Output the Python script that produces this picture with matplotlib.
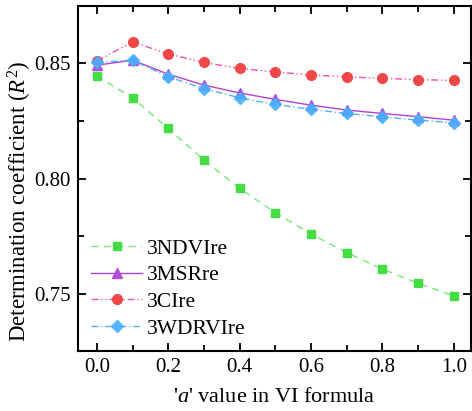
import numpy as np
import matplotlib
matplotlib.use("Agg")
from matplotlib import pyplot as plt

# VI 공식의 a 값에 따른 결정계수
a_values = [0.0, 0.1, 0.2, 0.3, 0.4, 0.5, 0.6, 0.7, 0.8, 0.9, 1.0]
ndvi_re = [0.8444, 0.8350, 0.8217, 0.8080, 0.7958, 0.7852, 0.7760, 0.7679, 0.7608, 0.7546, 0.7491]
msr_re = [0.8491, 0.8513, 0.8452, 0.8405, 0.8371, 0.8343, 0.8318, 0.8297, 0.8282, 0.8268, 0.8253]
ci_re = [0.8509, 0.8592, 0.8540, 0.8503, 0.8477, 0.8462, 0.8449, 0.8441, 0.8434, 0.8429, 0.8425]
wdrvi_re = [0.8503, 0.8513, 0.8441, 0.8390, 0.8350, 0.8321, 0.8300, 0.8282, 0.8268, 0.8253, 0.8242]

plt.rcParams["font.family"] = ["Liberation Serif", "DejaVu Serif"]
plt.rcParams["mathtext.fontset"] = "custom"
plt.rcParams["mathtext.rm"] = "Liberation Serif"
plt.rcParams["mathtext.it"] = "Liberation Serif:italic"
plt.rcParams["font.size"] = 15

fig = plt.figure(figsize=(4.72, 4.11), dpi=100)
ax = fig.add_axes([0.165, 0.146, 0.833, 0.839])

ax.plot(a_values, ndvi_re, color="#7ae87a", linestyle=(0, (5, 4)), linewidth=1,
        marker="s", markersize=6.3, markerfacecolor="#44dd44", markeredgecolor="#44dd44",
        label="3NDVIre")
ax.plot(a_values, msr_re, color="#b040d8", linestyle="-", linewidth=1,
        marker="^", markersize=7.5, markerfacecolor="#b050d8", markeredgecolor="#b050d8",
        label="3MSRre")
ax.plot(a_values, ci_re, color="#f050b0", linestyle=(0, (5, 2, 1, 2, 1, 2)), linewidth=1,
        marker="o", markersize=7, markerfacecolor="#f04848", markeredgecolor="#f04848",
        label="3CIre")
ax.plot(a_values, wdrvi_re, color="#40a8f0", linestyle=(0, (5, 2, 1, 2)), linewidth=1,
        marker="D", markersize=6.3, markerfacecolor="#48b0ff", markeredgecolor="#48b0ff",
        alpha=0.9, label="3WDRVIre")

ax.set_xlim(-0.053, 1.048)
ax.set_ylim(0.7253, 0.8747)
ax.set_xticks([0.0, 0.2, 0.4, 0.6, 0.8, 1.0])
ax.set_xticks(np.arange(0.1, 1.0, 0.2), minor=True)
ax.set_yticks([0.75, 0.80, 0.85])
ax.set_yticks([0.775, 0.825], minor=True)
ax.xaxis.set_major_formatter(matplotlib.ticker.FormatStrFormatter("%.1f"))
ax.yaxis.set_major_formatter(matplotlib.ticker.FormatStrFormatter("%.2f"))

ax.tick_params(which="both", direction="in", top=True, right=True, width=1.3, colors="black")
ax.tick_params(which="major", length=6, pad=5)
ax.tick_params(which="minor", length=4)
for s in ax.spines.values():
    s.set_linewidth(1.5)

ax.set_xlabel("'$a$' value in VI formula", fontsize=16, labelpad=8)
ax.set_ylabel("Determination coefficient ($R^2$)", fontsize=16.5)
ax.yaxis.set_label_coords(-0.112, 0.433)

ax.legend(loc="lower left", bbox_to_anchor=(-0.015, -0.02), frameon=False,
          handlelength=2.35, handletextpad=0.25, labelspacing=0.3, fontsize=15.5)

plt.savefig("out.png", dpi=100)
